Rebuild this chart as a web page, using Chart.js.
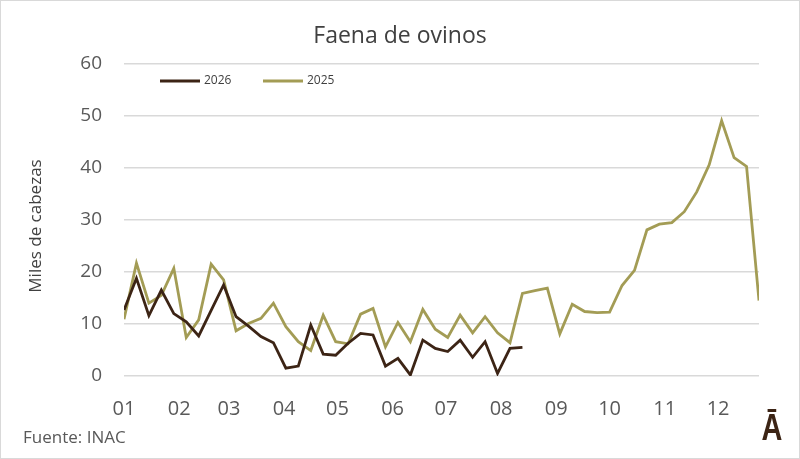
<!DOCTYPE html>
<html>
<head>
<meta charset="utf-8">
<script src="https://cdn.jsdelivr.net/npm/chart.js@4"></script>
<style>
  html, body { margin: 0; padding: 0; background: #fff; }
  #wrap { width: 800px; height: 459px; }
</style>
</head>
<body>
<div id="wrap"><canvas id="faenaChart"></canvas></div>
<script>
// semana del año (0 = primera semana)
const weeks2025 = [0,1,2,3,4,5,6,7,8,9,10,11,12,13,14,15,16,17,18,19,20,21,22,23,24,25,
    26,27,28,29,30,31,32,33,34,35,36,37,38,39,40,41,42,43,44,45,46,47,48,49,50,51];
const faena2025 = [10.9,21.7,14.0,15.5,20.7,7.4,10.8,21.5,18.5,8.7,10.1,11.1,14.0,9.5,6.6,4.9,
    11.7,6.6,6.2,11.9,13.0,5.6,10.3,6.6,12.8,9.0,7.4,11.7,8.3,11.4,8.3,6.4,
    15.9,16.4,16.9,8.1,13.8,12.4,12.2,12.3,17.4,20.3,28.1,29.2,29.5,31.6,35.4,40.6,49.1,42.0,40.3,14.5];
const faena2026 = [12.7,18.8,11.6,16.5,12.0,10.4,7.7,12.6,17.5,11.4,9.6,7.6,6.4,1.5,1.9,9.8,
    4.2,4.0,6.3,8.2,7.9,1.9,3.4,0.2,6.9,5.3,4.7,6.9,3.6,6.6,0.5,5.3,5.5];

// inicio de cada mes, en semanas
const monthPos = [0, 31/7, 59/7, 90/7, 120/7, 151/7, 181/7, 212/7, 243/7, 273/7, 304/7, 334/7];
const monthLabels = ['01','02','03','04','05','06','07','08','09','10','11','12'];

const toPoints = (vals) => vals.map((v, i) => ({ x: weeks2025[i], y: v }));

const brown = '#3c2415';
const olive = '#a39c55';

const extras = {
    id: 'extras',
    beforeDraw(chart) {
        const c = chart.ctx;
        c.save();
        c.fillStyle = '#fff';
        c.fillRect(0, 0, chart.width, chart.height);
        c.strokeStyle = '#d9d9d9';
        c.lineWidth = 1;
        c.strokeRect(0.5, 0.5, chart.width - 1, chart.height - 1);
        c.restore();
    },
    afterDraw(chart) {
        const c = chart.ctx;
        c.save();
        // titulo
        c.fillStyle = '#404040';
        c.font = '23px "Open Sans"';
        c.textAlign = 'center';
        c.textBaseline = 'middle';
        c.fillText('Faena de ovinos', 400, 36);
        // eje y
        c.save();
        c.translate(36, 226);
        c.rotate(-Math.PI / 2);
        c.font = '17px "Open Sans"';
        c.fillStyle = '#404040';
        c.fillText('Miles de cabezas', 0, 0);
        c.restore();
        // fuente
        c.textAlign = 'left';
        c.font = '17px "Open Sans"';
        c.fillStyle = '#595959';
        c.fillText('Fuente: INAC', 23, 438);
        // logo
        c.save();
        c.translate(772, 440);
        c.scale(0.78, 1);
        c.textAlign = 'center';
        c.textBaseline = 'alphabetic';
        c.fillStyle = brown;
        c.font = 'bold 37px "Liberation Sans"';
        c.fillText('\u0100', 0, 0);
        c.restore();
        // leyenda
        let x = 160;
        c.textBaseline = 'middle';
        c.font = '12px "Open Sans"';
        chart.data.datasets.forEach(ds => {
            c.strokeStyle = ds.borderColor;
            c.lineWidth = 3;
            c.beginPath();
            c.moveTo(x, 81);
            c.lineTo(x + 40, 81);
            c.stroke();
            c.fillStyle = '#404040';
            c.textAlign = 'left';
            c.fillText(ds.label, x + 44, 81);
            x += 103;
        });
        c.restore();
    }
};

new Chart(document.getElementById('faenaChart'), {
    type: 'line',
    data: {
        datasets: [
            { label: '2026', data: toPoints(faena2026), borderColor: brown, backgroundColor: brown,
              borderWidth: 2.8, pointRadius: 0, tension: 0 },
            { label: '2025', data: toPoints(faena2025), borderColor: olive, backgroundColor: olive,
              borderWidth: 2.8, pointRadius: 0, tension: 0 }
        ]
    },
    options: {
        responsive: true,
        maintainAspectRatio: false,
        animation: false,
        layout: { padding: { top: 64, right: 41, bottom: 0, left: 0 } },
        plugins: {
            legend: { display: false },
            tooltip: { enabled: false }
        },
        scales: {
            x: {
                type: 'linear',
                min: 0,
                max: 51,
                afterBuildTicks: (scale) => { scale.ticks = monthPos.map(v => ({ value: v })); },
                afterFit: (scale) => { scale.height = 83; },
                grid: { display: false, drawTicks: false },
                border: { display: false },
                ticks: {
                    autoSkip: false,
                    maxRotation: 0,
                    padding: 21,
                    color: '#595959',
                    font: { family: 'Open Sans', size: 20 },
                    callback: (v, i) => monthLabels[i]
                }
            },
            y: {
                min: 0,
                max: 60,
                afterFit: (scale) => { scale.width = 124; },
                grid: { color: '#d9d9d9', lineWidth: 1.5, drawTicks: false },
                border: { display: false },
                ticks: {
                    stepSize: 10,
                    padding: 22,
                    color: '#595959',
                    font: { family: 'Open Sans', size: 19 }
                }
            }
        }
    },
    plugins: [extras]
});
</script>
</body>
</html>
